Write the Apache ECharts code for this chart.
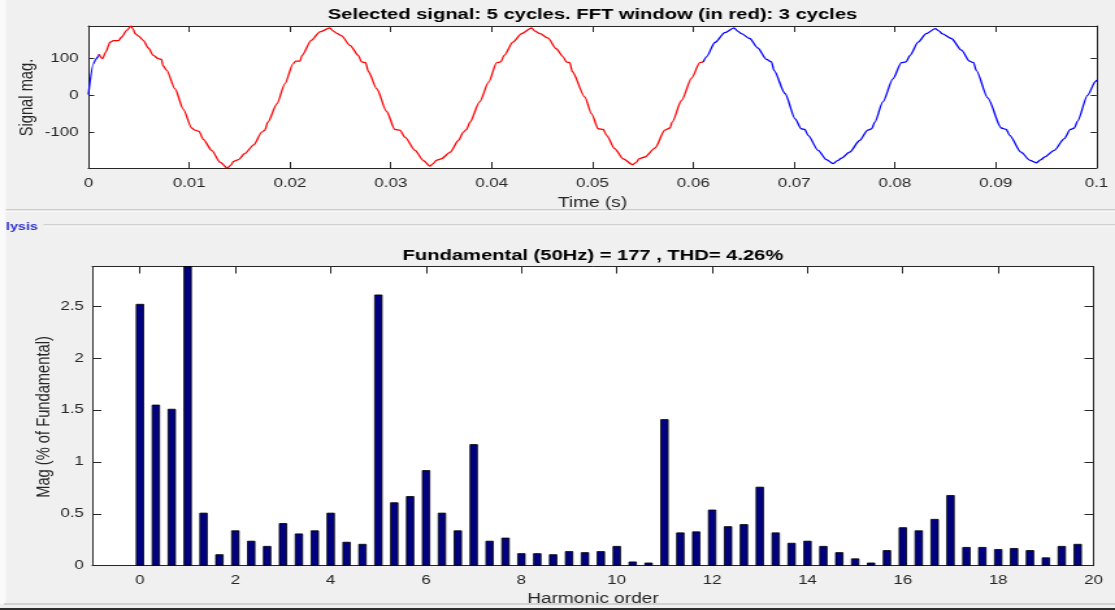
<!DOCTYPE html>
<html>
<head>
<meta charset="utf-8">
<script src="https://cdn.jsdelivr.net/npm/echarts@6/dist/echarts.min.js"></script>
<style>
  html, body { margin: 0; padding: 0; background: #f0f0f0; overflow: hidden; }
  #wrap { width: 1115px; height: 610px; overflow: hidden; }
  /* the figure is laid out at 858px and widened to the window */
  #chart { width: 858px; height: 610px; transform: scaleX(1.29953); transform-origin: 0 0; }
</style>
</head>
<body>
<div id="wrap"><div id="chart"></div></div>
<script>
// Selected signal: sample times (ms) and magnitudes
const signalTimeMs = [
  0, 0.5, 0.73, 0.99, 1.06, 1.39, 1.72, 2.15, 2.48, 2.97, 3.3, 3.8, 4.23, 4.46, 4.63, 4.96,
  5.45, 5.95, 6.44, 6.94, 7.27, 7.37, 7.77, 8.59, 9.42, 10.24, 10.57, 10.97, 11.4, 12.23, 13.05,
  13.8, 14.1, 14.4, 14.9, 15.5, 16.4, 17.2, 17.5, 17.8, 18.7, 19.5, 20.3, 20.55, 20.98, 21.2,
  22.1, 22.97, 23.96, 24.3, 24.7, 25.12, 25.95, 26.77, 27.1, 27.5, 27.77, 28.6, 29.58, 30.4,
  30.9, 31.4, 32.4, 33.2, 33.88, 34.2, 34.5, 35.0, 35.9, 36.7, 37.2, 37.5, 37.85, 38.8, 39.7,
  40.5, 40.9, 41.25, 42.1, 42.97, 43.96, 44.3, 44.8, 45.6, 46.4, 47.1, 47.4, 47.76, 47.99,
  49.25, 49.9, 50.57, 51.07, 51.4, 52.2, 53.05, 53.98, 54.37, 54.6, 55.2, 56.19, 57.18, 57.68,
  57.9, 58.83, 59.83, 60.65, 60.98, 61.31, 62.14, 63.13, 64.05, 64.4, 64.78, 65.6, 66.4, 67.26,
  67.76, 68.0, 69.1, 70.1, 70.7, 71.06, 71.39, 72.38, 73.2, 73.87, 74.36, 74.7, 75.5, 76.5,
  77.3, 77.7, 78.0, 78.8, 79.8, 80.64, 81.1, 81.5, 82.3, 83.1, 84.0, 84.4, 84.67, 85.6, 86.6,
  87.4, 87.8, 88.07, 89.2, 90.55, 91.05, 91.38, 92.5, 93.4, 94.0, 94.5, 94.85, 95.8, 96.8,
  97.4, 97.8, 98.1, 99.1, 99.9, 100
];
const signalMag = [
  2, 86, 98, 106, 112, 100, 118, 145, 149, 149, 159, 177, 189, 180, 168, 162,
  150, 129, 109, 100, 98, 82, 68, 18, -38, -89, -95, -98, -120, -150, -182,
  -198, -191, -180, -175, -159, -135, -100, -95, -73, -23, 32, 86, 93, 93, 109,
  150, 173, 184, 175, 168, 162, 136, 109, 91, 89, 65, 18, -44, -93,
  -95, -114, -150, -177, -193, -186, -177, -173, -155, -123, -100, -93, -73, -18, 36,
  89, 91, 109, 145, 168, 184, 175, 168, 156, 127, 105, 91, 89, 65,
  -5, -50, -91, -93, -109, -145, -173, -189, -182, -173, -168, -144, -95, -89,
  -73, -14, 47, 89, 91, 105, 144, 171, 184, 175, 168, 155, 129, 98,
  91, 68, 5, -64, -91, -93, -109, -150, -175, -186, -177, -171, -155, -123,
  -95, -91, -73, -18, 45, 89, 91, 109, 145, 168, 182, 175, 168, 155, 123,
  93, 89, 68, -7, -89, -93, -109, -155, -177, -184, -175, -168, -150, -118,
  -93, -89, -71, 0, 38, 42
];
// FFT window (s)
const fftWindowStart = 0.001;
const fftWindowEnd = 0.061;

// Spectrum in % of fundamental; the 3-cycle window gives one bin every 1/3 order
const harmonicMag = [
  2.52, 1.55, 1.51, 100, 0.51, 0.11, 0.34, 0.24, 0.19, 0.41,
  0.31, 0.34, 0.51, 0.23, 0.21, 2.61, 0.61, 0.67, 0.92, 0.51,
  0.34, 1.17, 0.24, 0.27, 0.12, 0.12, 0.11, 0.14, 0.13, 0.14,
  0.19, 0.04, 0.03, 1.41, 0.32, 0.33, 0.54, 0.38, 0.40, 0.76,
  0.32, 0.22, 0.24, 0.19, 0.13, 0.07, 0.03, 0.15, 0.37, 0.34,
  0.45, 0.68, 0.18, 0.18, 0.16, 0.17, 0.15, 0.08, 0.19, 0.21
];
const binsPerOrder = 3;

// Tick labels
const signalTicks = [-100, 0, 100];
const orderTicks = [0, 2, 4, 6, 8, 10, 12, 14, 16, 18, 20];
const magTicks = [0, 0.5, 1, 1.5, 2, 2.5];

const titleTop = 'Selected signal: 5 cycles. FFT window (in red): 3 cycles';
const titleBottom = 'Fundamental (50Hz) = 177 , THD= 4.26%';

const FONT = "'Liberation Sans', Arial, Helvetica, sans-serif";
const AX = '#262626';

const signalPts = signalTimeMs.map((t, i) => [t / 1000, signalMag[i]]);
const windowPts = signalPts.filter(p => p[0] >= fftWindowStart && p[0] <= fftWindowEnd);
const winFirst = windowPts[0][0];
const winLast = windowPts[windowPts.length - 1][0];
// samples outside the window, split into the lead-in and the tail
const outsidePts = signalPts.filter(p => p[0] <= winFirst)
  .concat([[null, null]])
  .concat(signalPts.filter(p => p[0] >= winLast));
const spectrumPts = harmonicMag.map((v, k) => [k / binsPerOrder, v]);

function boxAxis(opts) {
  // one side of a MATLAB-style axes box with inward ticks
  return Object.assign({
    type: 'value',
    splitLine: { show: false },
    axisLine: { show: true, onZero: false, lineStyle: { color: AX, width: 1 } },
    axisTick: { show: true, inside: true, length: 5, lineStyle: { color: AX, width: 1 } },
    axisLabel: { show: false },
    nameTextStyle: { fontFamily: FONT, fontSize: 14.7, color: AX },
    nameLocation: 'middle'
  }, opts);
}
const labelStyle = (margin, extra) => Object.assign({
  show: true, margin: margin, fontFamily: FONT, fontSize: 13, color: AX
}, extra || {});

const lineCommon = {
  type: 'line', xAxisIndex: 0, yAxisIndex: 0, showSymbol: false,
  smooth: 0.25, smoothMonotone: 'x', connectNulls: false
};

// rotated y-axis titles
function yTitle(text, x, y) {
  return { type: 'text', x: x, y: y, rotation: Math.PI / 2, silent: true,
    style: { text: text, fill: AX, font: '14.7px ' + FONT, textAlign: 'center', textVerticalAlign: 'middle' } };
}

const chart = echarts.init(document.getElementById('chart'));
chart.setOption({
  animation: false,
  backgroundColor: '#f0f0f0',
  textStyle: { fontFamily: FONT },
  title: [
    { text: titleTop, left: 455.9, top: 7, padding: 0, textAlign: 'center',
      textStyle: { fontFamily: FONT, fontSize: 15.5, fontWeight: 'bold', color: '#000' } },
    { text: titleBottom, left: 456.3, top: 247.5, padding: 0, textAlign: 'center',
      textStyle: { fontFamily: FONT, fontSize: 15.5, fontWeight: 'bold', color: '#000' } }
  ],
  grid: [
    { left: 68, top: 26, width: 775.8, height: 142, show: true, backgroundColor: '#fff', borderWidth: 0, outerBoundsMode: 'none' },
    { left: 71, top: 266.5, width: 770.5, height: 299.2, show: true, backgroundColor: '#fff', borderWidth: 0, outerBoundsMode: 'none' }
  ],
  xAxis: [
    boxAxis({ gridIndex: 0, position: 'bottom', min: 0, max: 0.1, interval: 0.01,
      axisTick: { show: true, inside: true, length: 6, lineStyle: { color: AX } },
      axisLabel: labelStyle(9.3),
      name: 'Time (s)', nameGap: 27.7 }),
    boxAxis({ gridIndex: 0, position: 'top', min: 0, max: 0.1, interval: 0.01,
      axisTick: { show: true, inside: true, length: 6, lineStyle: { color: AX } } }),
    boxAxis({ gridIndex: 1, position: 'bottom', min: -1, max: 20,
      axisTick: { show: true, inside: true, length: 7, customValues: orderTicks, lineStyle: { color: AX } },
      axisLabel: labelStyle(8.6, { customValues: orderTicks }),
      name: 'Harmonic order', nameGap: 26 }),
    boxAxis({ gridIndex: 1, position: 'top', min: -1, max: 20,
      axisTick: { show: true, inside: true, length: 7, customValues: orderTicks, lineStyle: { color: AX } } })
  ],
  yAxis: [
    boxAxis({ gridIndex: 0, position: 'left', min: -198, max: 189,
      axisTick: { show: true, inside: true, length: 4.5, customValues: signalTicks, lineStyle: { color: AX } },
      axisLabel: labelStyle(7.5, { customValues: signalTicks }) }),
    boxAxis({ gridIndex: 0, position: 'right', min: -198, max: 189,
      axisTick: { show: true, inside: true, length: 4.5, customValues: signalTicks, lineStyle: { color: AX } } }),
    boxAxis({ gridIndex: 1, position: 'left', min: 0, max: 2.88,
      axisTick: { show: true, inside: true, length: 7, customValues: magTicks, lineStyle: { color: AX } },
      axisLabel: labelStyle(6.4, { customValues: magTicks }) }),
    boxAxis({ gridIndex: 1, position: 'right', min: 0, max: 2.88,
      axisTick: { show: true, inside: true, length: 7, customValues: magTicks, lineStyle: { color: AX } } })
  ],
  series: [
    Object.assign({ name: 'Signal', data: outsidePts,
      lineStyle: { color: '#0000ff', width: 1.3 }, z: 3 }, lineCommon),
    Object.assign({ name: 'FFT window', data: windowPts,
      lineStyle: { color: '#ff0000', width: 1.3 }, z: 4 }, lineCommon),
    { name: 'Spectrum', type: 'bar', xAxisIndex: 2, yAxisIndex: 2, data: spectrumPts,
      barWidth: 6.4, clip: true,
      itemStyle: { color: '#000080', borderColor: '#000000', borderWidth: 0.8 } }
  ],
  graphic: [
    { type: 'rect', shape: { x: 0, y: 0, width: 4.5, height: 604 }, style: { fill: '#fafafa' }, silent: true },
    { type: 'rect', shape: { x: 4.6, y: 209.5, width: 860, height: 1 }, style: { fill: '#a8a8a8' }, silent: true },
    { type: 'rect', shape: { x: 4.6, y: 210.5, width: 860, height: 1 }, style: { fill: '#ffffff' }, silent: true },
    { type: 'rect', shape: { x: 33.5, y: 224.5, width: 830, height: 1 }, style: { fill: '#b4b4b4' }, silent: true },
    { type: 'rect', shape: { x: 33.5, y: 225.5, width: 830, height: 1 }, style: { fill: '#ffffff' }, silent: true },
    { type: 'text', x: 4.6, y: 226.5, silent: true,
      style: { text: 'lysis', fill: '#3030d0', font: 'bold 11px ' + FONT, textVerticalAlign: 'middle', textAlign: 'left' } },
    { type: 'rect', shape: { x: 3, y: 603.5, width: 860, height: 1 }, style: { fill: '#b4b4b4' }, silent: true },
    { type: 'rect', shape: { x: 0, y: 608, width: 860, height: 2 }, style: { fill: '#2e2e2e' }, silent: true },
    yTitle('Signal mag.', 20.8, 97.5),
    yTitle('Mag (% of Fundamental)', 33.5, 417)
  ]
});
</script>
</body>
</html>
